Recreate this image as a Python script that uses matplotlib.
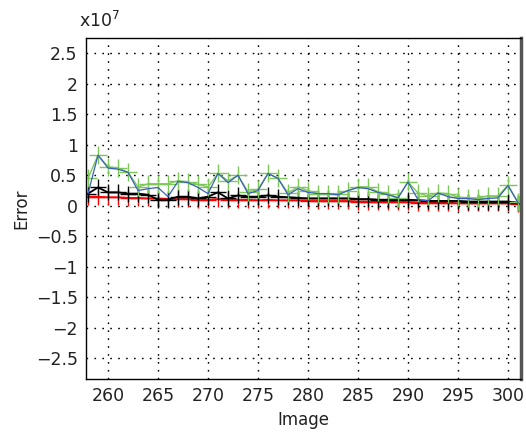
import numpy as np
import matplotlib
matplotlib.use("Agg")
import matplotlib.pyplot as plt

# image index
images = np.arange(258, 302)

# errors, in units of 1e7
err_blue = [0.20, 0.83, 0.62, 0.60, 0.55, 0.25, 0.28, 0.30, 0.15, 0.40, 0.38,
            0.30, 0.20, 0.53, 0.38, 0.50, 0.20, 0.25, 0.53, 0.45, 0.18, 0.28,
            0.22, 0.20, 0.20, 0.18, 0.25, 0.30, 0.28, 0.22, 0.18, 0.13, 0.39,
            0.10, 0.08, 0.21, 0.15, 0.12, 0.12, 0.10, 0.12, 0.13, 0.33, 0.05]
err_green = [0.45, 0.83, 0.64, 0.62, 0.55, 0.31, 0.36, 0.36, 0.36, 0.41, 0.39,
             0.35, 0.31, 0.53, 0.41, 0.50, 0.23, 0.27, 0.53, 0.45, 0.21, 0.31,
             0.25, 0.20, 0.20, 0.20, 0.25, 0.31, 0.31, 0.23, 0.20, 0.13, 0.39,
             0.21, 0.16, 0.21, 0.20, 0.14, 0.13, 0.13, 0.16, 0.16, 0.34, 0.06]
err_black = [0.20, 0.30, 0.22, 0.22, 0.20, 0.20, 0.18, 0.10, 0.10, 0.15, 0.15,
             0.12, 0.15, 0.22, 0.12, 0.17, 0.15, 0.15, 0.17, 0.15, 0.14, 0.13,
             0.12, 0.12, 0.12, 0.12, 0.12, 0.11, 0.11, 0.10, 0.10, 0.10, 0.10,
             0.09, 0.08, 0.08, 0.08, 0.08, 0.07, 0.07, 0.07, 0.07, 0.07, 0.05]
err_red = [0.15, 0.15, 0.14, 0.14, 0.13, 0.13, 0.12, 0.12, 0.11, 0.11, 0.11,
           0.10, 0.10, 0.11, 0.10, 0.10, 0.10, 0.09, 0.10, 0.09, 0.09, 0.09,
           0.08, 0.08, 0.08, 0.08, 0.08, 0.07, 0.07, 0.07, 0.07, 0.06, 0.06,
           0.05, 0.05, 0.05, 0.05, 0.04, 0.04, 0.04, 0.04, 0.04, 0.04, 0.03]

yticks = np.arange(-2.5, 2.51, 0.5)
xticks = np.arange(260, 301, 5)

fig = plt.figure(figsize=(5.26, 4.36), dpi=100)
ax = fig.add_axes([0.1635, 0.1307, 0.827, 0.782])

ax.plot(images, err_red, color="red", lw=1.2, marker="+", ms=11, mew=1.0)
ax.plot(images, err_black, color="black", lw=1.3, marker="+", ms=11, mew=1.0)
ax.plot(images, err_green, color="#7cc65a", lw=1.0, marker="+", ms=13, mew=1.0)
ax.plot(images, err_blue, color="#3a5fc0", lw=0.9)

ax.set_xlim(257.8, 301.3)
ax.set_ylim(-2.84, 2.75)
ax.set_xticks(xticks)
ax.set_yticks(yticks)
ax.set_yticklabels([("%g" % v).replace("-", "\u2212") for v in yticks])
ax.grid(True, color="black", linestyle=(0, (1.2, 4.5)), lw=1.0)
ax.tick_params(length=0, labelsize=12.5, pad=6, labelcolor="#222222")
for s in ax.spines.values():
    s.set_linewidth(1.0)
ax.spines["right"].set_color("#555555")
ax.spines["right"].set_linewidth(2.5)

ax.set_xlabel("Image", fontsize=12, color="#222222")
ax.set_ylabel("Error", fontsize=12, labelpad=4, color="#222222")
fig.text(0.15, 0.93, r"x10$^7$", fontsize=12.5, ha="left", va="bottom",
         color="#222222")

fig.savefig("out.png", dpi=100)
